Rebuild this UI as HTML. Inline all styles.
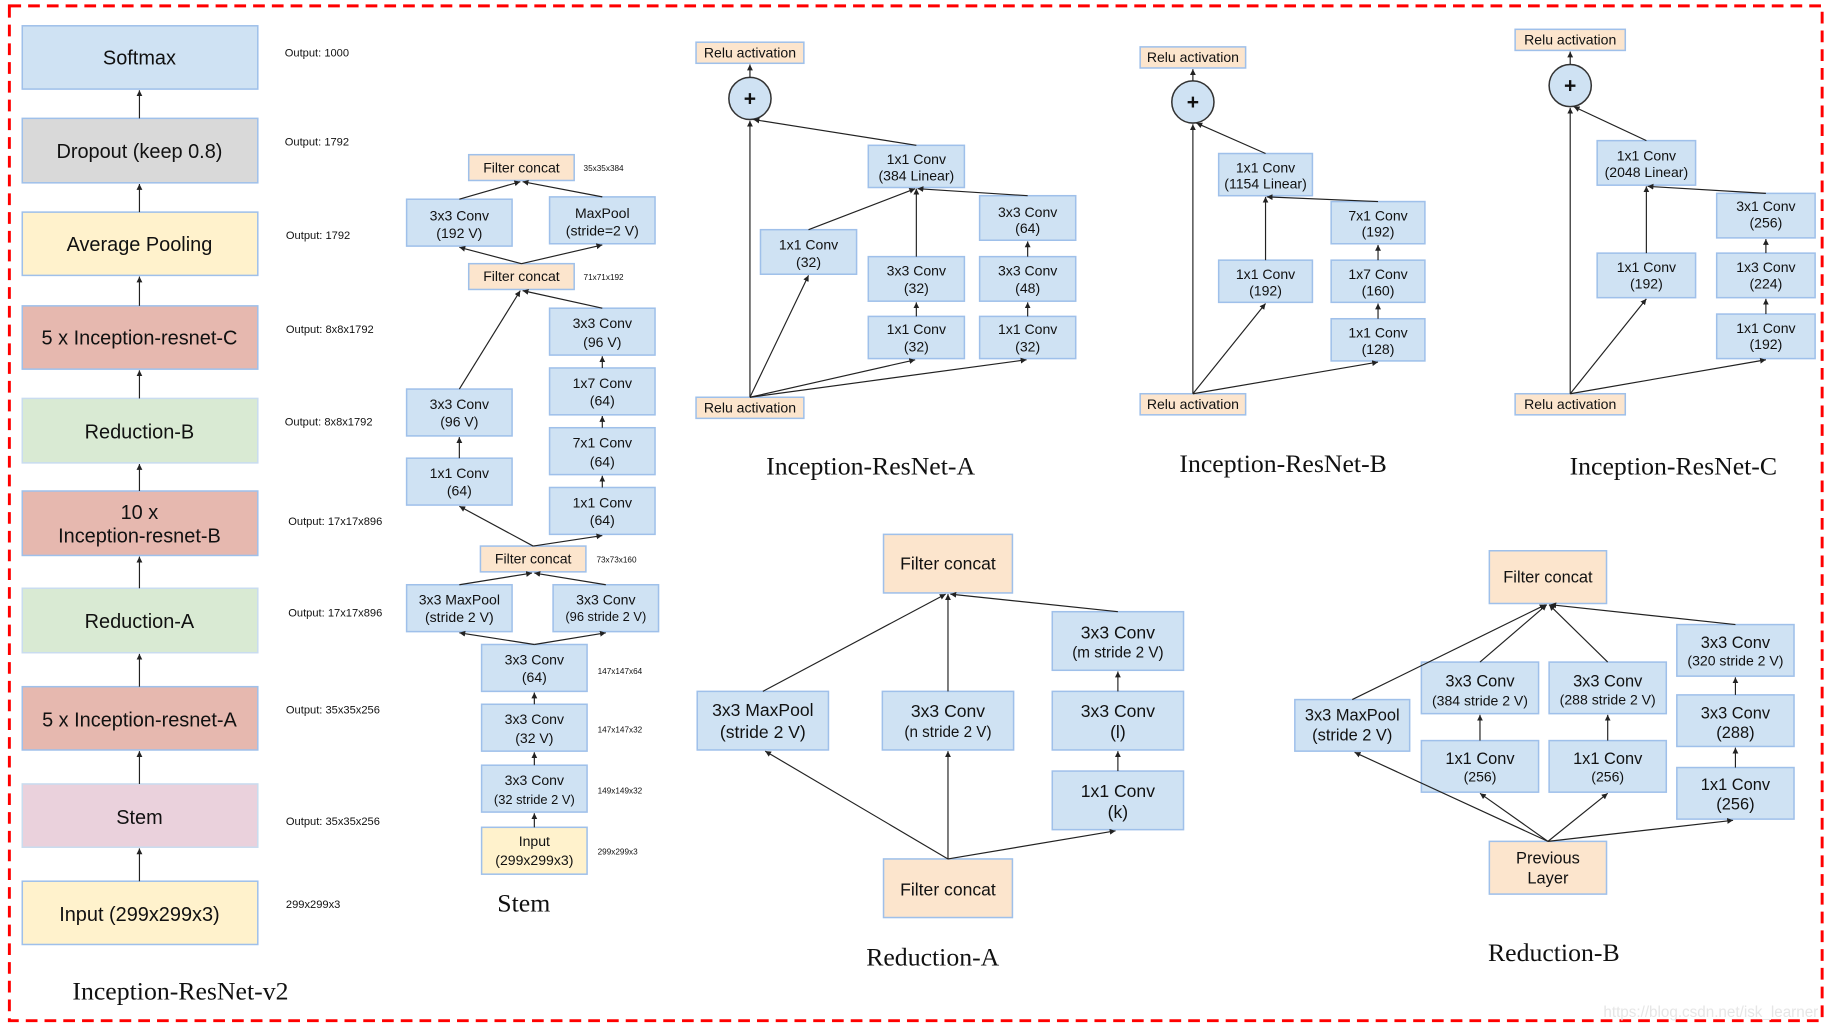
<!DOCTYPE html>
<html><head><meta charset="utf-8"><style>
html,body{margin:0;padding:0;background:#fff;}
svg{display:block}
text{font-family:"Liberation Sans",sans-serif;fill:#111;text-anchor:middle;}
.b{fill:#cfe2f3;stroke:#9fc0ea;stroke-width:1.3}
.p{fill:#fce5cd;stroke:#9fc0ea;stroke-width:1.3}
.y{fill:#fff2cc;stroke:#9fc0ea;stroke-width:1.3}
.g{fill:#d9d9d9;stroke:#9fc0ea;stroke-width:1.3}
.r{fill:#e6b8af;stroke:#9fc0ea;stroke-width:1.3}
.gr{fill:#d9ead3;stroke:#c9dcef;stroke-width:1.3}
.pk{fill:#ead1dc;stroke:#c9dcef;stroke-width:1.3}
line,polyline{stroke:#222;stroke-width:1;fill:none;marker-end:url(#a)}
.s{font-size:12px}
.m{font-size:15px}
.l{font-size:17px}
.o{font-size:9.5px;text-anchor:start}
.t{font-size:7px;text-anchor:start}
.ti{font-family:"Liberation Serif",serif;font-size:22px}
</style></head><body>
<svg width="1828" height="1027" viewBox="0 0 1560 876.4">
<defs><marker id="a" markerWidth="6" markerHeight="6" refX="5" refY="3" orient="auto" markerUnits="userSpaceOnUse"><path d="M0,0.5 L5,3 L0,5.5z" fill="#222"/></marker></defs>
<rect x="8" y="5" width="1547" height="866" fill="none" stroke="#f00" stroke-width="2.5" stroke-dasharray="10,6"/>

<!-- left column -->
<rect class="b" x="19" y="22" width="201" height="54"/><text class="l" x="119" y="55">Softmax</text>
<rect class="g" x="19" y="101" width="201" height="55"/><text class="l" x="119" y="135">Dropout (keep 0.8)</text>
<rect class="y" x="19" y="181" width="201" height="54"/><text class="l" x="119" y="214">Average Pooling</text>
<rect class="r" x="19" y="261" width="201" height="54"/><text class="l" x="119" y="294">5 x Inception-resnet-C</text>
<rect class="gr" x="19" y="340" width="201" height="55"/><text class="l" x="119" y="374">Reduction-B</text>
<rect class="r" x="19" y="419" width="201" height="55"/><text class="l" x="119" y="443">10 x</text><text class="l" x="119" y="463">Inception-resnet-B</text>
<rect class="gr" x="19" y="502" width="201" height="55"/><text class="l" x="119" y="536">Reduction-A</text>
<rect class="r" x="19" y="586" width="201" height="54"/><text class="l" x="119" y="620">5 x Inception-resnet-A</text>
<rect class="pk" x="19" y="669" width="201" height="54"/><text class="l" x="119" y="703">Stem</text>
<rect class="y" x="19" y="752" width="201" height="54"/><text class="l" x="119" y="786">Input (299x299x3)</text>
<line x1="119" y1="101" x2="119" y2="77"/><line x1="119" y1="181" x2="119" y2="157"/><line x1="119" y1="261" x2="119" y2="236"/><line x1="119" y1="340" x2="119" y2="316"/><line x1="119" y1="419" x2="119" y2="396"/><line x1="119" y1="502" x2="119" y2="475"/><line x1="119" y1="586" x2="119" y2="558"/><line x1="119" y1="669" x2="119" y2="641"/><line x1="119" y1="752" x2="119" y2="724"/>
<text class="o" x="243" y="48">Output: 1000</text>
<text class="o" x="243" y="124">Output: 1792</text>
<text class="o" x="244" y="204">Output: 1792</text>
<text class="o" x="244" y="284">Output: 8x8x1792</text>
<text class="o" x="243" y="363">Output: 8x8x1792</text>
<text class="o" x="246" y="448">Output: 17x17x896</text>
<text class="o" x="246" y="526">Output: 17x17x896</text>
<text class="o" x="244" y="609">Output: 35x35x256</text>
<text class="o" x="244" y="704">Output: 35x35x256</text>
<text class="o" x="244" y="775">299x299x3</text>
<text class="ti" x="154" y="853">Inception-ResNet-v2</text>

<!-- stem -->
<rect class="p" x="400" y="132" width="90" height="22"/><text class="s" x="445" y="147">Filter concat</text><text class="t" x="498" y="146">35x35x384</text>
<rect class="b" x="347" y="170" width="90" height="40"/><text class="s" x="392" y="188">3x3 Conv</text><text class="s" x="392" y="203">(192 V)</text>
<rect class="b" x="469" y="168" width="90" height="40"/><text class="s" x="514" y="186">MaxPool</text><text class="s" x="514" y="201">(stride=2 V)</text>
<rect class="p" x="400" y="225" width="90" height="22"/><text class="s" x="445" y="240">Filter concat</text><text class="t" x="498" y="239">71x71x192</text>
<rect class="b" x="469" y="263" width="90" height="40"/><text class="s" x="514" y="280">3x3 Conv</text><text class="s" x="514" y="296">(96 V)</text>
<rect class="b" x="469" y="314" width="90" height="40"/><text class="s" x="514" y="331">1x7 Conv</text><text class="s" x="514" y="346">(64)</text>
<rect class="b" x="469" y="365" width="90" height="40"/><text class="s" x="514" y="382">7x1 Conv</text><text class="s" x="514" y="398">(64)</text>
<rect class="b" x="469" y="416" width="90" height="40"/><text class="s" x="514" y="433">1x1 Conv</text><text class="s" x="514" y="448">(64)</text>
<rect class="b" x="347" y="332" width="90" height="40"/><text class="s" x="392" y="349">3x3 Conv</text><text class="s" x="392" y="364">(96 V)</text>
<rect class="b" x="347" y="391" width="90" height="40"/><text class="s" x="392" y="408">1x1 Conv</text><text class="s" x="392" y="423">(64)</text>
<rect class="p" x="410" y="466" width="90" height="22"/><text class="s" x="455" y="481">Filter concat</text><text class="t" x="509" y="480">73x73x160</text>
<rect class="b" x="347" y="499" width="90" height="40"/><text class="s" x="392" y="516">3x3 MaxPool</text><text class="s" x="392" y="531">(stride 2 V)</text>
<rect class="b" x="472" y="499" width="90" height="40"/><text class="s" x="517" y="516">3x3 Conv</text><text class="s" x="517" y="530" style="font-size:11px">(96 stride 2 V)</text>
<rect class="b" x="411" y="550" width="90" height="40"/><text class="s" x="456" y="567">3x3 Conv</text><text class="s" x="456" y="582">(64)</text><text class="t" x="510" y="575">147x147x64</text>
<rect class="b" x="411" y="601" width="90" height="40"/><text class="s" x="456" y="618">3x3 Conv</text><text class="s" x="456" y="634">(32 V)</text><text class="t" x="510" y="625">147x147x32</text>
<rect class="b" x="411" y="653" width="90" height="40"/><text class="s" x="456" y="670">3x3 Conv</text><text class="s" x="456" y="686" style="font-size:11px">(32 stride 2 V)</text><text class="t" x="510" y="677">149x149x32</text>
<rect class="y" x="411" y="706" width="90" height="40"/><text class="s" x="456" y="722">Input</text><text class="s" x="456" y="738">(299x299x3)</text><text class="t" x="510" y="729">299x299x3</text>
<text class="ti" x="447" y="778">Stem</text>
<line x1="456" y1="706" x2="456" y2="694"/><line x1="456" y1="653" x2="456" y2="642"/><line x1="456" y1="601" x2="456" y2="591"/>
<line x1="456" y1="550" x2="392" y2="540"/><line x1="456" y1="550" x2="517" y2="540"/>
<line x1="392" y1="499" x2="454" y2="489"/><line x1="517" y1="499" x2="456" y2="489"/>
<line x1="455" y1="466" x2="392" y2="432"/><line x1="455" y1="466" x2="514" y2="457"/>
<line x1="392" y1="391" x2="392" y2="373"/><line x1="514" y1="416" x2="514" y2="406"/><line x1="514" y1="365" x2="514" y2="355"/><line x1="514" y1="314" x2="514" y2="304"/>
<line x1="392" y1="332" x2="444" y2="248"/><line x1="514" y1="263" x2="446" y2="248"/>
<line x1="445" y1="225" x2="392" y2="211"/><line x1="445" y1="225" x2="514" y2="209"/>
<line x1="392" y1="170" x2="444" y2="155"/><line x1="514" y1="168" x2="446" y2="155"/>

<!-- Inception-ResNet-A -->
<rect class="p" x="594" y="36" width="92" height="18"/><text class="s" x="640" y="49">Relu activation</text>
<circle cx="640" cy="84" r="18" class="b" style="stroke:#333"/><text x="640" y="90" style="font-size:18px;font-weight:bold">+</text>
<rect class="b" x="741" y="124" width="82" height="36"/><text class="s" x="782" y="140">1x1 Conv</text><text class="s" x="782" y="154">(384 Linear)</text>
<rect class="b" x="649" y="196" width="82" height="38"/><text class="s" x="690" y="213">1x1 Conv</text><text class="s" x="690" y="228">(32)</text>
<rect class="b" x="836" y="167" width="82" height="38"/><text class="s" x="877" y="185">3x3 Conv</text><text class="s" x="877" y="199">(64)</text>
<rect class="b" x="741" y="219" width="82" height="38"/><text class="s" x="782" y="235">3x3 Conv</text><text class="s" x="782" y="250">(32)</text>
<rect class="b" x="836" y="219" width="82" height="38"/><text class="s" x="877" y="235">3x3 Conv</text><text class="s" x="877" y="250">(48)</text>
<rect class="b" x="741" y="270" width="82" height="36"/><text class="s" x="782" y="285">1x1 Conv</text><text class="s" x="782" y="300">(32)</text>
<rect class="b" x="836" y="270" width="82" height="36"/><text class="s" x="877" y="285">1x1 Conv</text><text class="s" x="877" y="300">(32)</text>
<rect class="p" x="594" y="339" width="92" height="18"/><text class="s" x="640" y="352">Relu activation</text>
<text class="ti" x="743" y="405">Inception-ResNet-A</text>
<line x1="640" y1="66" x2="640" y2="55"/><line x1="640" y1="339" x2="640" y2="103"/><line x1="640" y1="339" x2="690" y2="235"/><line x1="640" y1="339" x2="781" y2="307"/><line x1="640" y1="339" x2="876" y2="307"/>
<line x1="782" y1="270" x2="782" y2="258"/><line x1="877" y1="270" x2="877" y2="258"/><line x1="877" y1="219" x2="877" y2="206"/>
<line x1="690" y1="196" x2="781" y2="161"/><line x1="782" y1="219" x2="782" y2="161"/><line x1="877" y1="167" x2="783" y2="161"/><line x1="782" y1="124" x2="643" y2="102"/>

<!-- Inception-ResNet-B -->
<rect class="p" x="973" y="40" width="90" height="18"/><text class="s" x="1018" y="53">Relu activation</text>
<circle cx="1018" cy="87" r="18" class="b" style="stroke:#333"/><text x="1018" y="93" style="font-size:18px;font-weight:bold">+</text>
<rect class="b" x="1040" y="131" width="80" height="36"/><text class="s" x="1080" y="147">1x1 Conv</text><text class="s" x="1080" y="161">(1154 Linear)</text>
<rect class="b" x="1040" y="222" width="80" height="36"/><text class="s" x="1080" y="238">1x1 Conv</text><text class="s" x="1080" y="252">(192)</text>
<rect class="b" x="1136" y="172" width="80" height="36"/><text class="s" x="1176" y="188">7x1 Conv</text><text class="s" x="1176" y="202">(192)</text>
<rect class="b" x="1136" y="222" width="80" height="36"/><text class="s" x="1176" y="238">1x7 Conv</text><text class="s" x="1176" y="252">(160)</text>
<rect class="b" x="1136" y="272" width="80" height="36"/><text class="s" x="1176" y="288">1x1 Conv</text><text class="s" x="1176" y="302">(128)</text>
<rect class="p" x="973" y="336" width="90" height="18"/><text class="s" x="1018" y="349">Relu activation</text>
<text class="ti" x="1095" y="403">Inception-ResNet-B</text>
<line x1="1018" y1="69" x2="1018" y2="59"/><line x1="1018" y1="336" x2="1018" y2="106"/><line x1="1018" y1="336" x2="1080" y2="259"/><line x1="1018" y1="336" x2="1176" y2="309"/>
<line x1="1176" y1="272" x2="1176" y2="259"/><line x1="1176" y1="222" x2="1176" y2="209"/>
<line x1="1080" y1="222" x2="1080" y2="168"/><line x1="1176" y1="172" x2="1081" y2="168"/><line x1="1080" y1="131" x2="1021" y2="105"/>

<!-- Inception-ResNet-C -->
<rect class="p" x="1293" y="25" width="94" height="18"/><text class="s" x="1340" y="38">Relu activation</text>
<circle cx="1340" cy="73" r="18" class="b" style="stroke:#333"/><text x="1340" y="79" style="font-size:18px;font-weight:bold">+</text>
<rect class="b" x="1363" y="120" width="84" height="38"/><text class="s" x="1405" y="137">1x1 Conv</text><text class="s" x="1405" y="151">(2048 Linear)</text>
<rect class="b" x="1363" y="216" width="84" height="38"/><text class="s" x="1405" y="232">1x1 Conv</text><text class="s" x="1405" y="246">(192)</text>
<rect class="b" x="1465" y="165" width="84" height="38"/><text class="s" x="1507" y="180">3x1 Conv</text><text class="s" x="1507" y="194">(256)</text>
<rect class="b" x="1465" y="216" width="84" height="38"/><text class="s" x="1507" y="232">1x3 Conv</text><text class="s" x="1507" y="246">(224)</text>
<rect class="b" x="1465" y="268" width="84" height="38"/><text class="s" x="1507" y="284">1x1 Conv</text><text class="s" x="1507" y="298">(192)</text>
<rect class="p" x="1293" y="336" width="94" height="18"/><text class="s" x="1340" y="349">Relu activation</text>
<text class="ti" x="1428" y="405">Inception-ResNet-C</text>
<line x1="1340" y1="55" x2="1340" y2="44"/><line x1="1340" y1="336" x2="1340" y2="92"/><line x1="1340" y1="336" x2="1405" y2="255"/><line x1="1340" y1="336" x2="1507" y2="307"/>
<line x1="1507" y1="268" x2="1507" y2="255"/><line x1="1507" y1="216" x2="1507" y2="204"/>
<line x1="1405" y1="216" x2="1405" y2="159"/><line x1="1507" y1="165" x2="1406" y2="159"/><line x1="1405" y1="120" x2="1343" y2="91"/>

<!-- Reduction-A -->
<rect class="p" x="754" y="456" width="110" height="50"/><text class="m" x="809" y="486">Filter concat</text>
<rect class="b" x="595" y="590" width="112" height="50"/><text class="m" x="651" y="611">3x3 MaxPool</text><text class="m" x="651" y="630">(stride 2 V)</text>
<rect class="b" x="753" y="590" width="112" height="50"/><text class="m" x="809" y="612">3x3 Conv</text><text class="s" x="809" y="629" style="font-size:13px">(n stride 2 V)</text>
<rect class="b" x="898" y="522" width="112" height="50"/><text class="m" x="954" y="545">3x3 Conv</text><text class="s" x="954" y="561" style="font-size:13px">(m stride 2 V)</text>
<rect class="b" x="898" y="590" width="112" height="50"/><text class="m" x="954" y="612">3x3 Conv</text><text class="m" x="954" y="630">(l)</text>
<rect class="b" x="898" y="658" width="112" height="50"/><text class="m" x="954" y="680">1x1 Conv</text><text class="m" x="954" y="698">(k)</text>
<rect class="p" x="754" y="733" width="110" height="50"/><text class="m" x="809" y="764">Filter concat</text>
<text class="ti" x="796" y="824">Reduction-A</text>
<line x1="809" y1="733" x2="653" y2="641"/><line x1="809" y1="733" x2="809" y2="641"/><line x1="809" y1="733" x2="952" y2="709"/>
<line x1="954" y1="658" x2="954" y2="641"/><line x1="954" y1="590" x2="954" y2="573"/>
<line x1="651" y1="590" x2="807" y2="507"/><line x1="809" y1="590" x2="809" y2="507"/><line x1="954" y1="522" x2="811" y2="507"/>

<!-- Reduction-B -->
<rect class="p" x="1271" y="470" width="100" height="45"/><text class="m" x="1321" y="497" style="font-size:14px">Filter concat</text>
<rect class="b" x="1105" y="597" width="98" height="44"/><text class="s" x="1154" y="615" style="font-size:14px">3x3 MaxPool</text><text class="s" x="1154" y="632" style="font-size:14px">(stride 2 V)</text>
<rect class="b" x="1213" y="565" width="100" height="44"/><text class="s" x="1263" y="586" style="font-size:14px">3x3 Conv</text><text class="s" x="1263" y="602">(384 stride 2 V)</text>
<rect class="b" x="1213" y="632" width="100" height="44"/><text class="s" x="1263" y="652" style="font-size:14px">1x1 Conv</text><text class="s" x="1263" y="667">(256)</text>
<rect class="b" x="1322" y="565" width="100" height="44"/><text class="s" x="1372" y="586" style="font-size:14px">3x3 Conv</text><text class="s" x="1372" y="601">(288 stride 2 V)</text>
<rect class="b" x="1322" y="632" width="100" height="44"/><text class="s" x="1372" y="652" style="font-size:14px">1x1 Conv</text><text class="s" x="1372" y="667">(256)</text>
<rect class="b" x="1431" y="533" width="100" height="44"/><text class="s" x="1481" y="553" style="font-size:14px">3x3 Conv</text><text class="s" x="1481" y="568">(320 stride 2 V)</text>
<rect class="b" x="1431" y="593" width="100" height="44"/><text class="s" x="1481" y="613" style="font-size:14px">3x3 Conv</text><text class="s" x="1481" y="630" style="font-size:14px">(288)</text>
<rect class="b" x="1431" y="655" width="100" height="44"/><text class="s" x="1481" y="674" style="font-size:14px">1x1 Conv</text><text class="s" x="1481" y="691" style="font-size:14px">(256)</text>
<rect class="p" x="1271" y="718" width="100" height="45"/><text class="s" x="1321" y="737" style="font-size:14px">Previous</text><text class="s" x="1321" y="754" style="font-size:14px">Layer</text>
<text class="ti" x="1326" y="820">Reduction-B</text>
<line x1="1321" y1="718" x2="1156" y2="642"/><line x1="1321" y1="718" x2="1263" y2="677"/><line x1="1321" y1="718" x2="1372" y2="677"/><line x1="1321" y1="718" x2="1479" y2="700"/>
<line x1="1263" y1="632" x2="1263" y2="610"/><line x1="1372" y1="632" x2="1372" y2="610"/><line x1="1481" y1="655" x2="1481" y2="638"/><line x1="1481" y1="593" x2="1481" y2="578"/>
<line x1="1154" y1="597" x2="1319" y2="516"/><line x1="1263" y1="565" x2="1320" y2="516"/><line x1="1372" y1="565" x2="1322" y2="516"/><line x1="1481" y1="533" x2="1323" y2="516"/>
<text x="1460" y="868" style="font-size:13px;fill:#e6e6e6">https://blog.csdn.net/isk_learner</text>
</svg>
</body></html>
